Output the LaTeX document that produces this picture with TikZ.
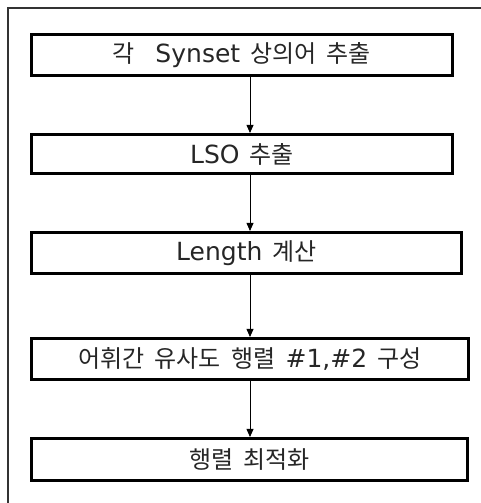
\documentclass[tikz,border=0pt]{standalone}
\usepackage{fontspec}
\setmainfont{Noto Sans CJK KR}[WordSpace=1.9]
\newfontfamily\latfont{DejaVu Sans}
\newcommand\latw[1]{{\latfont\fontsize{25}{26}\selectfont #1}}
\usetikzlibrary{arrows.meta}
\tikzset{
  stepbox/.style={draw=black, line width=2.6pt, rectangle, inner sep=0pt, font=\fontsize{24}{26}\selectfont, text=black!85},
  flow/.style={draw=black, line width=0.8pt, -{Triangle[length=8pt,width=7pt]}},
  frame/.style={draw=black!80, line width=1.6pt}
}
\begin{document}
\begin{tikzpicture}[x=1pt,y=-1pt]
\useasboundingbox (0,0) rectangle (481,503);
\draw[frame] (8,503) -- (8,8) -- (481,8);
\coordinate (ax) at (250,0);
\node[stepbox, minimum width=421.5pt, minimum height=41.5pt] (b1) at (242,55) {각\ \ \latw{Synset} 상의어 추출};
\node[stepbox, minimum width=421.5pt, minimum height=39.5pt] (b2) at (242,154) {\latw{LSO} 추출};
\node[stepbox, minimum width=430.5pt, minimum height=41.5pt] (b3) at (246.5,253) {\latw{Length} 계산};
\node[stepbox, minimum width=437.5pt, minimum height=41.5pt] (b4) at (250,359) {어휘간 유사도 행렬 \latw{\#1,\#2} 구성};
\node[stepbox, minimum width=436.5pt, minimum height=42.5pt] (b5) at (249.5,459.5) {행렬 최적화};
\draw[flow] (b1.south -| ax) -- (b2.north -| ax);
\draw[flow] (b2.south -| ax) -- (b3.north -| ax);
\draw[flow] (b3.south -| ax) -- (b4.north -| ax);
\draw[flow] (b4.south -| ax) -- (b5.north -| ax);
\end{tikzpicture}
\end{document}
